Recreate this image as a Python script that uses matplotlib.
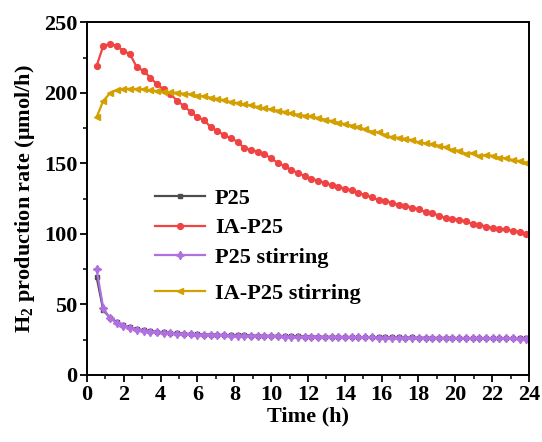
import numpy as np
import matplotlib
matplotlib.use('Agg')
import matplotlib.pyplot as plt
from matplotlib.ticker import MultipleLocator

plt.rcParams['font.family'] = ['Liberation Serif', 'DejaVu Serif']
plt.rcParams['font.weight'] = 'bold'
plt.rcParams['mathtext.fontset'] = 'custom'
plt.rcParams['mathtext.rm'] = 'Liberation Serif:bold'
plt.rcParams['mathtext.bf'] = 'Liberation Serif:bold'
plt.rcParams['mathtext.default'] = 'bf'

# sampling times (h), ~22 min interval
time_h = np.linspace(0.52, 23.85, 65)

p25 = [69.7, 46.0, 40.6, 37.6, 35.2, 33.8, 32.5, 31.8, 31.1, 30.6,
       30.2, 29.9, 29.6, 29.3, 29.1, 28.9, 28.7, 28.7, 28.5, 28.4,
       28.3, 28.2, 28.3, 28.0, 27.9, 27.8, 27.8, 27.7, 27.5, 27.6,
       27.4, 27.3, 27.3, 27.2, 27.1, 27.1, 27.0, 27.0, 26.9, 26.9,
       26.8, 26.9, 26.7, 26.7, 26.6, 26.6, 26.5, 26.6, 26.4, 26.4,
       26.4, 26.3, 26.3, 26.3, 26.2, 26.2, 26.1, 26.2, 26.1, 26.0,
       26.0, 26.0, 26.0, 25.9, 25.9]

ia_p25 = [219.1, 233.5, 234.8, 233.3, 230.0, 227.4, 218.2, 215.8, 210.9, 206.2,
          202.6, 199.3, 194.5, 190.8, 186.7, 182.8, 180.9, 175.7, 173.0, 170.2,
          167.9, 165.5, 161.0, 159.6, 158.4, 156.7, 153.7, 150.4, 148.2, 145.4,
          143.3, 141.1, 139.2, 137.8, 136.4, 134.5, 133.5, 132.1, 131.2, 128.9,
          127.7, 126.0, 124.1, 123.6, 122.2, 120.6, 120.1, 118.7, 117.5, 115.6,
          114.9, 113.0, 111.3, 110.9, 110.1, 109.0, 107.1, 106.6, 105.2, 104.5,
          103.5, 103.3, 102.1, 101.6, 100.2]

p25_stir = [75.0, 47.3, 40.2, 37.1, 34.8, 33.3, 32.2, 31.5, 30.8, 30.2,
            29.8, 29.6, 29.2, 29.0, 28.8, 28.6, 28.5, 28.3, 28.3, 28.1,
            28.0, 27.9, 27.9, 27.7, 27.6, 27.6, 27.4, 27.4, 27.2, 27.3,
            27.1, 27.0, 27.0, 26.9, 26.9, 26.8, 26.8, 26.7, 26.7, 26.6,
            26.6, 26.6, 26.5, 26.5, 26.4, 26.4, 26.4, 26.3, 26.3, 26.3,
            26.2, 26.2, 26.2, 26.1, 26.1, 26.1, 26.0, 26.0, 26.0, 25.9,
            25.9, 25.9, 25.9, 25.8, 25.8]

ia_p25_stir = [182.8, 194.5, 199.8, 202.1, 202.8, 203.0, 202.8, 202.6, 201.9, 201.4,
               200.9, 200.5, 200.2, 199.5, 199.1, 198.1, 197.7, 196.7, 195.7, 195.0,
               193.6, 192.9, 192.0, 191.2, 190.1, 189.2, 188.3, 187.5, 186.6, 185.5,
               184.6, 183.9, 183.4, 182.3, 181.2, 180.1, 179.0, 177.9, 176.9, 176.0,
               174.2, 172.6, 172.1, 170.2, 168.6, 168.3, 167.4, 166.7, 165.0, 164.3,
               163.8, 162.6, 161.5, 159.6, 159.1, 157.0, 157.2, 155.3, 156.0, 155.5,
               154.1, 153.7, 152.5, 151.8, 150.6]

fig = plt.figure(figsize=(5.42, 4.42), dpi=100)
ax = fig.add_axes([0.1605, 0.1516, 0.8155, 0.7975])

l1, = ax.plot(time_h, p25, color='#4d4d4d', marker='s', markersize=3.5, linewidth=1.6, label='P25')
l2, = ax.plot(time_h, ia_p25, color='#f04444', marker='o', markersize=4.2, linewidth=1.6, label='IA-P25')
l3, = ax.plot(time_h, p25_stir, color='#b070e0', marker=(4, 1, 0), markersize=6, linewidth=1.6, label='P25 stirring')
l4, = ax.plot(time_h, ia_p25_stir, color='#d4a000', marker='<', markersize=4.5, linewidth=1.6, label='IA-P25 stirring')

ax.set_xlim(0, 24)
ax.set_ylim(0, 250)
ax.xaxis.set_major_locator(MultipleLocator(2))
ax.xaxis.set_minor_locator(MultipleLocator(1))
ax.yaxis.set_major_locator(MultipleLocator(50))
ax.yaxis.set_minor_locator(MultipleLocator(25))
ax.tick_params(which='major', direction='out', length=5, width=1.3, labelsize=16, pad=2)
ax.tick_params(which='minor', direction='out', length=3, width=1.1)
for s in ax.spines.values():
    s.set_linewidth(1.4)

ax.set_xlabel('Time (h)', fontsize=16, fontweight='bold', labelpad=1)
ax.set_ylabel('H$_2$ production rate (μmol/h)', fontsize=16, fontweight='bold', labelpad=5)

# legend: last entry sits a bit lower than the others, as in the original
leg_kw = dict(loc='center left', frameon=False, fontsize=16, handlelength=2.25,
              labelspacing=0.4, handletextpad=0.45, borderpad=0, borderaxespad=0)
leg1 = ax.legend(handles=[l1, l2, l3], bbox_to_anchor=(0.154, 0.417), **leg_kw)
ax.add_artist(leg1)
ax.legend(handles=[l4], bbox_to_anchor=(0.154, 0.23), **leg_kw)

fig.savefig('out.png', dpi=100)
plt.close()
